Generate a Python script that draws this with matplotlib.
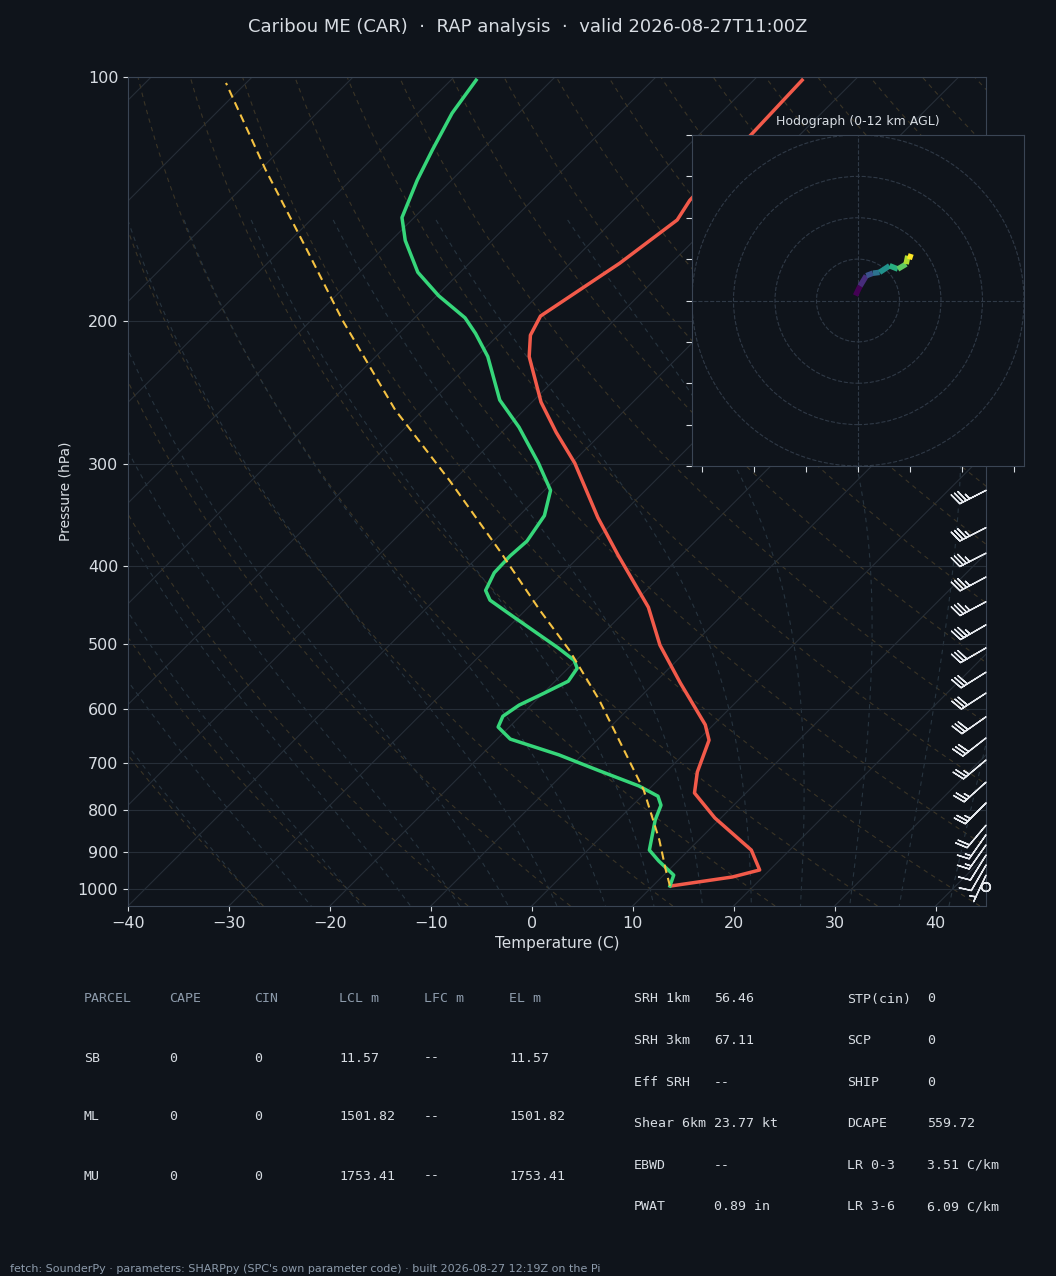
import numpy as np
import matplotlib
matplotlib.use("Agg")
import matplotlib.pyplot as plt
from matplotlib.collections import LineCollection

# ---------------------------------------------------------------
# Sounding data
# ---------------------------------------------------------------
TEMP_P = [992, 967, 948, 896, 818, 762, 718, 656, 628, 558, 501, 450, 388,
          349, 299, 274, 251.5, 221, 208, 197, 169.6, 150, 141.9, 100.9]
TEMP_C = [11.8, 17.0, 19.0, 16.2, 9.4, 4.9, 3.1, 1.1, -0.8, -7.4, -13.2, -18.1,
          -26.3, -32.0, -39.7, -44.6, -49.1, -54.8, -56.8, -57.7, -55.1, -53.7,
          -54.4, -55.2]

DEW_P = [992, 962, 924, 896, 823, 789, 769, 747, 714, 684, 654, 632, 613, 594,
         574, 555, 535, 523, 505, 479, 457, 441, 429, 408, 389, 373, 347, 323,
         299, 270, 250, 221, 207, 198, 186, 174, 159, 149, 134, 123, 110.8, 100.9]
DEW_C = [11.7, 11.0, 8.1, 6.1, 3.7, 2.8, 1.6, -1.3, -7.0, -12.3, -18.7, -21.1,
         -21.7, -21.2, -19.9, -18.7, -19.1, -20.2, -23.0, -27.5, -31.5, -34.5,
         -35.9, -36.8, -36.9, -36.7, -37.5, -39.4, -43.3, -48.8, -53.4, -58.9,
         -62.4, -65.0, -69.8, -74.2, -78.6, -81.2, -83.4, -84.9, -86.6, -87.5]

PARCEL_P = [992, 948, 871, 756, 665, 585, 508, 453.5, 383, 314, 257, 199, 163,
            130, 101.7]
PARCEL_C = [11.7, 9.7, 6.1, -0.4, -7.1, -13.8, -21.7, -28.6, -38.5, -50.4,
            -62.8, -77.0, -87.5, -99.5, -112.0]

BARB_P = [995, 962, 935, 909, 883, 858, 835, 784, 739, 694, 652, 614, 574,
          541, 505, 473, 443, 413, 386, 359, 323]
BARB_SPD = [0, 5, 10, 10, 15, 15, 20, 25, 25, 25, 30, 30, 30, 30, 30, 35, 35,
            35, 35, 35, 35]
BARB_DIR = [0, 205, 210, 212, 215, 215, 220, 225, 228, 230, 232, 235, 237,
            238, 240, 240, 242, 242, 243, 243, 243]

HODO_U = [-0.6, 0.5, 2.0, 3.6, 5.2, 7.6, 9.6, 11.6, 12.0, 13.2]
HODO_V = [1.2, 3.5, 6.0, 6.6, 6.8, 8.4, 7.6, 8.8, 10.8, 10.4]

TITLE = "Caribou ME (CAR)  \u00b7  RAP analysis  \u00b7  valid 2026-08-27T11:00Z"

PARCEL_HDR = ["PARCEL", "CAPE", "CIN", "LCL m", "LFC m", "EL m"]
PARCEL_ROWS = [["SB", "0", "0", "11.57", "--", "11.57"],
               ["ML", "0", "0", "1501.82", "--", "1501.82"],
               ["MU", "0", "0", "1753.41", "--", "1753.41"]]
INDEX_LEFT = [("SRH 1km", "56.46"), ("SRH 3km", "67.11"), ("Eff SRH", "--"),
              ("Shear 6km", "23.77 kt"), ("EBWD", "--"), ("PWAT", "0.89 in")]
INDEX_RIGHT = [("STP(cin)", "0"), ("SCP", "0"), ("SHIP", "0"),
               ("DCAPE", "559.72"), ("LR 0-3", "3.51 C/km"), ("LR 3-6", "6.09 C/km")]
FOOTER = ("fetch: SounderPy \u00b7 parameters: SHARPpy (SPC's own parameter code) "
          "\u00b7 built 2026-08-27 12:19Z on the Pi")

BG = "#0f141b"
FG = "#d8dde3"
HDR = "#8d9bab"
SPINE = "#3a4554"
P_BOT, P_TOP = 1050.0, 100.0
SKEW = 35.0


def skew_x(t, p):
    return np.asarray(t, float) + SKEW * np.log(P_BOT / np.asarray(p, float))


def moist_adiabat(t0, p):
    # simple pseudo-adiabatic integration starting at 1000 hPa
    rd, cp, lv, eps = 287.04, 1005.7, 2.501e6, 0.622
    out = []
    for direction in (1, -1):
        T = t0 + 273.15
        pp = 1000.0
        target = sorted(p[p <= 1000], reverse=True) if direction == 1 else sorted(p[p > 1000])
        for pt in target:
            while (pp - pt) * direction > 0:
                dp = -2.0 * direction
                if abs(pp - pt) < 2.0:
                    dp = pt - pp
                tc = T - 273.15
                es = 6.112 * np.exp(17.67 * tc / (tc + 243.5))
                rs = eps * es / (pp - es)
                dtdp = (rd * T + lv * rs) / (pp * (cp + lv * lv * rs * eps / (rd * T * T)))
                T += dtdp * dp
                pp += dp
            out.append((pt, T - 273.15))
    out.sort()
    return np.array([o[0] for o in out]), np.array([o[1] for o in out])


plt.rcParams["font.family"] = "DejaVu Sans"
fig = plt.figure(figsize=(10.56, 12.76), dpi=100, facecolor=BG)
ax = fig.add_axes([128 / 1056, 1 - 906 / 1276, 858 / 1056, 829 / 1276], facecolor=BG)
ax.set_yscale("log")
ax.set_ylim(P_BOT, P_TOP)
ax.set_xlim(-40, 45)

pl = np.geomspace(P_BOT, P_TOP, 120)
# isotherms
for t in range(-130, 60, 10):
    ax.plot(skew_x(np.full_like(pl, t), pl), pl, color="#262e38", lw=0.8, zorder=1)
# dry adiabats
for th in range(-30, 200, 10):
    tk = (th + 273.15) * (pl / 1000.0) ** 0.2857 - 273.15
    ax.plot(skew_x(tk, pl), pl, color="#3a3426", lw=0.8, ls=(0, (4, 4)), zorder=1)
# moist adiabats
pm = np.geomspace(P_BOT, 150, 60)
for t0 in range(-30, 45, 5):
    pp, tt = moist_adiabat(t0, pm)
    ax.plot(skew_x(tt, pp), pp, color="#27343f", lw=0.8, ls=(0, (4, 4)), zorder=1)
# pressure grid
ptick = [100, 200, 300, 400, 500, 600, 700, 800, 900, 1000]
for p in ptick:
    ax.axhline(p, color="#262e38", lw=0.8, zorder=1)

ax.plot(skew_x(TEMP_C, TEMP_P), TEMP_P, color="#f25a4a", lw=2.5, zorder=4)
ax.plot(skew_x(DEW_C, DEW_P), DEW_P, color="#36d67a", lw=2.5, zorder=4)
ax.plot(skew_x(PARCEL_C, PARCEL_P), PARCEL_P, color="#f5c242", lw=1.5,
        ls=(0, (4, 2.5)), zorder=4)

spd = np.array(BARB_SPD, float)
dr = np.radians(BARB_DIR)
u = -spd * np.sin(dr)
v = -spd * np.cos(dr)
ax.barbs(np.full(len(BARB_P), 45.0), BARB_P, u, v, color="#e6e9ee", length=6.5,
         linewidth=1.0, clip_on=False, zorder=5)

ax.set_yticks(ptick)
ax.set_yticklabels([str(p) for p in ptick])
ax.yaxis.set_minor_locator(matplotlib.ticker.NullLocator())
ax.set_xticks(range(-40, 50, 10))
ax.tick_params(colors=FG, labelsize=11.5)
for s in ax.spines.values():
    s.set_color(SPINE)
ax.set_xlabel("Temperature (C)", color=FG, fontsize=11)
ax.set_ylabel("Pressure (hPa)", color=FG, fontsize=10)
fig.text(0.5, 1 - 27 / 1276, TITLE, ha="center", va="center", color=FG, fontsize=13)

# hodograph inset
hax = fig.add_axes([692 / 1056, 1 - 466 / 1276, 332 / 1056, 331 / 1276], facecolor=BG)
hax.set_xlim(-40, 40)
hax.set_ylim(-40, 40)
for r in (10, 20, 30, 40):
    hax.add_patch(plt.Circle((0, 0), r, fill=False, ec="#2f3946", lw=0.8, ls="--"))
hax.axhline(0, color="#2f3946", lw=0.8, ls="--")
hax.axvline(0, color="#2f3946", lw=0.8, ls="--")
pts = np.column_stack([HODO_U, HODO_V])
segs = np.stack([pts[:-1], pts[1:]], axis=1)
lc = LineCollection(segs, cmap="viridis", linewidths=4)
lc.set_array(np.arange(len(segs)))
hax.add_collection(lc)
hax.set_xticks(np.arange(-37.5, 40, 12.5))
hax.set_yticks(np.arange(-40, 41, 10))
hax.set_xticklabels([])
hax.set_yticklabels([])
hax.tick_params(colors=FG, length=4)
for s in hax.spines.values():
    s.set_color(SPINE)
hax.set_title("Hodograph (0-12 km AGL)", color=FG, fontsize=9, pad=7)

# parameter table
mono = "DejaVu Sans Mono"
colx = [84, 169, 254, 339, 424, 509]
for x, h in zip(colx, PARCEL_HDR):
    fig.text(x / 1056, 1 - 999 / 1276, h, color=HDR, family=mono, fontsize=9.5, va="center")
for i, row in enumerate(PARCEL_ROWS):
    y = 1058 + 59 * i
    for x, val in zip(colx, row):
        fig.text(x / 1056, 1 - y / 1276, val, color=FG, family=mono, fontsize=9.5, va="center")
for i, ((k1, v1), (k2, v2)) in enumerate(zip(INDEX_LEFT, INDEX_RIGHT)):
    y = 1 - (999 + 41.6 * i) / 1276
    fig.text(634 / 1056, y, k1, color=FG, family=mono, fontsize=9.5, va="center")
    fig.text(714 / 1056, y, v1, color=FG, family=mono, fontsize=9.5, va="center")
    fig.text(847 / 1056, y, k2, color=FG, family=mono, fontsize=9.5, va="center")
    fig.text(927 / 1056, y, v2, color=FG, family=mono, fontsize=9.5, va="center")

fig.text(10 / 1056, 1 - 1269 / 1276, FOOTER, color=HDR, fontsize=8, va="center")

fig.savefig("out.png", dpi=100, facecolor=BG)
